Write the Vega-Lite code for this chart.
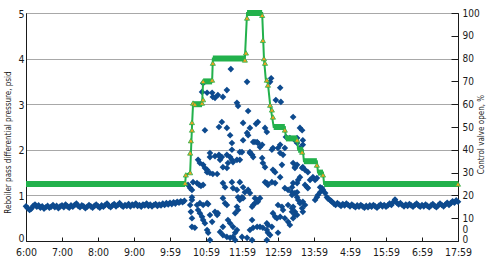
{
  "$schema": "https://vega.github.io/schema/vega-lite/v6.json",
  "width": 432,
  "height": 228,
  "autosize": {"type": "none"},
  "padding": {"left": 26, "top": 13, "right": 32, "bottom": 25},
  "background": "white",
  "config": {
    "view": {"stroke": "#1a1a1a", "strokeWidth": 1},
    "font": "'DejaVu Sans Condensed', 'Liberation Sans Narrow', 'Roboto Condensed', Roboto, sans-serif",
    "axis": {"labelFont": "'DejaVu Sans Condensed', 'Liberation Sans Narrow', 'Roboto Condensed', Roboto, sans-serif", "titleFont": "'DejaVu Sans Condensed', 'Liberation Sans Narrow', 'Roboto Condensed', Roboto, sans-serif", "labelColor": "#1a1a1a", "titleColor": "#1a1a1a", "domainColor": "#1a1a1a", "tickColor": "#1a1a1a", "titleFontWeight": "normal"}
  },
  "datasets": {
    "pressure": [
      {"t":6.00,"p":0.76},{"t":6.05,"p":0.72},{"t":6.10,"p":0.68},{"t":6.15,"p":0.71},{"t":6.20,"p":0.77},{"t":6.25,"p":0.80},{"t":6.30,"p":0.75},{"t":6.35,"p":0.78},{"t":6.40,"p":0.73},{"t":6.45,"p":0.76},
      {"t":6.50,"p":0.71},{"t":6.55,"p":0.74},{"t":6.60,"p":0.77},{"t":6.65,"p":0.73},{"t":6.70,"p":0.75},{"t":6.75,"p":0.79},{"t":6.80,"p":0.74},{"t":6.85,"p":0.77},{"t":6.90,"p":0.72},{"t":6.95,"p":0.76},
      {"t":7.00,"p":0.78},{"t":7.05,"p":0.74},{"t":7.10,"p":0.80},{"t":7.15,"p":0.76},{"t":7.20,"p":0.73},{"t":7.25,"p":0.78},{"t":7.30,"p":0.75},{"t":7.35,"p":0.79},{"t":7.40,"p":0.82},{"t":7.45,"p":0.77},
      {"t":7.50,"p":0.74},{"t":7.55,"p":0.78},{"t":7.60,"p":0.76},{"t":7.65,"p":0.72},{"t":7.70,"p":0.75},{"t":7.75,"p":0.79},{"t":7.80,"p":0.76},{"t":7.85,"p":0.73},{"t":7.90,"p":0.77},{"t":7.95,"p":0.80},
      {"t":8.00,"p":0.76},{"t":8.05,"p":0.73},{"t":8.10,"p":0.78},{"t":8.15,"p":0.75},{"t":8.20,"p":0.79},{"t":8.25,"p":0.82},{"t":8.30,"p":0.77},{"t":8.35,"p":0.74},{"t":8.40,"p":0.78},{"t":8.45,"p":0.81},
      {"t":8.50,"p":0.76},{"t":8.55,"p":0.79},{"t":8.60,"p":0.83},{"t":8.65,"p":0.78},{"t":8.70,"p":0.75},{"t":8.75,"p":0.79},{"t":8.80,"p":0.77},{"t":8.85,"p":0.81},{"t":8.90,"p":0.76},{"t":8.95,"p":0.80},
      {"t":9.00,"p":0.78},{"t":9.05,"p":0.82},{"t":9.10,"p":0.77},{"t":9.15,"p":0.79},{"t":9.20,"p":0.75},{"t":9.25,"p":0.80},{"t":9.30,"p":0.78},{"t":9.35,"p":0.82},{"t":9.40,"p":0.77},{"t":9.45,"p":0.80},
      {"t":9.50,"p":0.76},{"t":9.55,"p":0.79},{"t":9.60,"p":0.81},{"t":9.65,"p":0.77},{"t":9.70,"p":0.80},{"t":9.75,"p":0.78},{"t":9.80,"p":0.82},{"t":9.85,"p":0.79},{"t":9.90,"p":0.83},{"t":9.95,"p":0.80},
      {"t":10.00,"p":0.84},{"t":10.05,"p":0.81},{"t":10.10,"p":0.85},{"t":10.15,"p":0.82},{"t":10.20,"p":0.86},{"t":10.25,"p":0.84},{"t":10.30,"p":0.87},{"t":10.35,"p":0.85},{"t":10.40,"p":0.88},
      {"t":11.69,"p":3.77},{"t":12.14,"p":3.49},{"t":12.81,"p":3.57},{"t":12.78,"p":3.49},{"t":13.06,"p":3.36},{"t":10.92,"p":3.46},{"t":10.89,"p":3.27},{"t":11.03,"p":3.25},{"t":11.17,"p":3.25},{"t":11.19,"p":3.16},
      {"t":11.25,"p":3.14},{"t":11.33,"p":3.20},{"t":11.47,"p":3.16},{"t":11.58,"p":3.31},{"t":11.86,"p":3.03},{"t":11.89,"p":2.96},{"t":12.17,"p":2.85},{"t":12.94,"p":3.09},{"t":13.08,"p":3.05},{"t":11.44,"p":2.61},
      {"t":11.58,"p":2.48},{"t":12.03,"p":2.59},{"t":12.44,"p":2.61},{"t":12.39,"p":2.57},{"t":13.42,"p":2.72},{"t":12.22,"p":2.48},{"t":12.14,"p":2.37},{"t":12.64,"p":2.48},{"t":12.69,"p":2.39},{"t":10.97,"p":2.43},
      {"t":11.67,"p":2.32},{"t":11.72,"p":2.15},{"t":12.36,"p":2.17},{"t":12.44,"p":2.15},{"t":12.50,"p":2.06},{"t":12.22,"p":1.93},{"t":13.06,"p":2.11},{"t":13.22,"p":2.28},{"t":13.33,"p":2.26},{"t":13.61,"p":2.48},
      {"t":13.67,"p":2.43},{"t":13.69,"p":2.21},{"t":13.53,"p":2.26},{"t":13.47,"p":2.21},{"t":11.11,"p":1.93},{"t":11.11,"p":1.84},{"t":11.39,"p":1.84},{"t":11.39,"p":1.78},{"t":11.72,"p":2.00},{"t":11.36,"p":2.50},
      {"t":11.25,"p":1.86},{"t":11.36,"p":1.89},{"t":11.44,"p":1.84},{"t":11.58,"p":1.89},{"t":11.67,"p":1.84},{"t":10.78,"p":1.78},{"t":10.83,"p":1.71},{"t":10.92,"p":1.67},{"t":10.97,"p":1.60},{"t":11.03,"p":1.56},
      {"t":11.03,"p":1.51},{"t":11.11,"p":1.49},{"t":11.19,"p":1.47},{"t":11.31,"p":1.47},{"t":11.47,"p":1.62},{"t":11.58,"p":1.60},{"t":11.61,"p":1.71},{"t":11.72,"p":1.78},{"t":10.64,"p":1.29},{"t":10.75,"p":1.27},
      {"t":10.81,"p":1.23},{"t":10.86,"p":1.21},{"t":10.92,"p":1.23},{"t":10.50,"p":1.23},{"t":10.56,"p":1.16},{"t":10.61,"p":1.12},{"t":11.47,"p":1.27},{"t":11.53,"p":1.18},{"t":11.72,"p":1.29},{"t":10.61,"p":0.96},
      {"t":10.61,"p":0.90},{"t":10.75,"p":0.79},{"t":10.83,"p":0.83},{"t":10.92,"p":0.79},{"t":11.03,"p":0.83},{"t":11.06,"p":0.81},{"t":10.78,"p":0.68},{"t":10.83,"p":0.61},{"t":10.89,"p":0.53},{"t":10.92,"p":0.46},
      {"t":10.97,"p":0.39},{"t":11.47,"p":0.94},{"t":11.53,"p":0.83},{"t":11.58,"p":0.79},{"t":11.25,"p":0.64},{"t":11.31,"p":0.57},{"t":11.33,"p":0.61},{"t":11.11,"p":0.57},{"t":11.17,"p":0.42},{"t":11.61,"p":0.46},
      {"t":11.67,"p":0.39},{"t":11.75,"p":0.31},{"t":11.47,"p":0.31},{"t":11.03,"p":0.24},{"t":11.06,"p":0.18},{"t":11.39,"p":0.20},{"t":11.47,"p":0.13},{"t":11.58,"p":0.09},{"t":11.67,"p":0.07},{"t":11.75,"p":0.09},
      {"t":11.11,"p":0.02},{"t":10.61,"p":0.50},{"t":10.61,"p":0.31},{"t":10.69,"p":0.29},{"t":10.56,"p":0.79},{"t":10.58,"p":0.64},
      {"t":12.17,"p":2.32},{"t":12.31,"p":2.17},{"t":12.42,"p":2.17},{"t":12.56,"p":2.11},{"t":12.03,"p":2.21},{"t":12.22,"p":1.95},{"t":12.28,"p":1.89},{"t":12.31,"p":1.84},{"t":11.94,"p":1.95},{"t":12.00,"p":1.95},
      {"t":12.83,"p":2.00},{"t":12.86,"p":2.04},{"t":13.00,"p":2.04},{"t":13.06,"p":1.93},{"t":13.14,"p":1.89},{"t":13.19,"p":2.04},{"t":11.75,"p":1.73},{"t":11.86,"p":1.78},{"t":11.94,"p":1.78},{"t":12.56,"p":1.82},
      {"t":12.58,"p":1.71},{"t":12.64,"p":1.62},{"t":12.86,"p":1.56},{"t":12.92,"p":1.51},{"t":13.11,"p":1.67},{"t":13.47,"p":1.62},{"t":11.94,"p":1.29},{"t":12.64,"p":1.29},{"t":12.69,"p":1.27},{"t":12.72,"p":1.23},
      {"t":12.83,"p":1.29},{"t":12.92,"p":1.27},{"t":13.06,"p":1.40},{"t":13.19,"p":1.16},{"t":13.28,"p":1.12},{"t":13.39,"p":1.07},{"t":13.39,"p":1.01},{"t":13.47,"p":1.05},{"t":13.53,"p":1.07},{"t":11.75,"p":1.16},
      {"t":11.86,"p":1.12},{"t":12.03,"p":1.18},{"t":12.08,"p":1.07},{"t":12.17,"p":1.12},{"t":12.22,"p":1.05},{"t":11.89,"p":0.96},{"t":11.94,"p":0.90},{"t":12.00,"p":0.96},{"t":12.03,"p":0.94},{"t":12.36,"p":0.94},
      {"t":12.42,"p":0.90},{"t":12.50,"p":0.94},{"t":12.44,"p":0.86},{"t":12.36,"p":0.83},{"t":12.31,"p":0.79},{"t":12.28,"p":0.75},{"t":13.00,"p":0.79},{"t":13.11,"p":0.75},{"t":13.14,"p":0.68},{"t":13.28,"p":0.79},
      {"t":13.39,"p":0.72},{"t":13.47,"p":0.64},{"t":13.53,"p":0.57},{"t":11.86,"p":0.75},{"t":11.89,"p":0.68},{"t":11.81,"p":0.61},{"t":12.86,"p":0.61},{"t":12.92,"p":0.53},{"t":12.97,"p":0.50},{"t":13.06,"p":0.53},
      {"t":13.19,"p":0.50},{"t":13.28,"p":0.42},{"t":13.33,"p":0.35},{"t":12.28,"p":0.46},{"t":12.69,"p":0.39},{"t":12.72,"p":0.35},{"t":12.83,"p":0.31},{"t":11.86,"p":0.24},{"t":11.81,"p":0.18},{"t":11.81,"p":0.02},
      {"t":12.22,"p":0.24},{"t":12.31,"p":0.29},{"t":12.42,"p":0.31},{"t":12.50,"p":0.31},{"t":12.58,"p":0.29},{"t":12.69,"p":0.24},{"t":12.72,"p":0.18},{"t":12.78,"p":0.13},{"t":12.00,"p":0.09},{"t":12.14,"p":0.07},
      {"t":12.28,"p":0.02},{"t":12.69,"p":0.02},{"t":13.00,"p":0.18},
      {"t":13.53,"p":2.15},{"t":13.69,"p":2.11},{"t":13.61,"p":2.04},{"t":13.42,"p":1.71},{"t":13.53,"p":1.67},{"t":13.47,"p":1.60},{"t":13.67,"p":1.60},{"t":13.69,"p":1.62},{"t":13.75,"p":1.56},{"t":13.83,"p":1.51},
      {"t":13.89,"p":1.34},{"t":13.97,"p":1.40},{"t":14.03,"p":1.34},{"t":14.08,"p":1.38},{"t":13.61,"p":1.40},{"t":13.56,"p":1.34},{"t":13.53,"p":1.27},{"t":13.42,"p":1.27},{"t":13.39,"p":1.18},{"t":13.75,"p":1.23},
      {"t":13.81,"p":1.18},{"t":13.83,"p":1.16},{"t":14.17,"p":1.18},{"t":14.22,"p":1.16},{"t":14.25,"p":1.12},{"t":14.17,"p":1.07},{"t":14.11,"p":1.01},{"t":14.08,"p":0.96},{"t":14.03,"p":0.90},{"t":14.31,"p":1.05},
      {"t":14.36,"p":0.96},{"t":14.44,"p":0.90},{"t":13.53,"p":0.96},{"t":13.56,"p":0.90},{"t":13.61,"p":0.83},{"t":13.69,"p":0.86},{"t":13.75,"p":0.79},{"t":13.67,"p":0.72},{"t":13.69,"p":0.64},{"t":13.42,"p":0.75},
      {"t":13.39,"p":0.64},{"t":13.47,"p":0.57},{"t":13.42,"p":0.50},{"t":14.39,"p":0.93},{"t":14.47,"p":0.88},
      {"t":14.50,"p":0.86},{"t":14.55,"p":0.82},{"t":14.60,"p":0.79},{"t":14.65,"p":0.83},{"t":14.70,"p":0.80},{"t":14.75,"p":0.77},{"t":14.80,"p":0.81},{"t":14.85,"p":0.78},{"t":14.90,"p":0.82},{"t":14.95,"p":0.79},
      {"t":15.00,"p":0.76},{"t":15.05,"p":0.80},{"t":15.10,"p":0.77},{"t":15.15,"p":0.74},{"t":15.20,"p":0.78},{"t":15.25,"p":0.75},{"t":15.30,"p":0.79},{"t":15.35,"p":0.76},{"t":15.40,"p":0.73},{"t":15.45,"p":0.77},
      {"t":15.50,"p":0.74},{"t":15.55,"p":0.78},{"t":15.60,"p":0.75},{"t":15.65,"p":0.79},{"t":15.70,"p":0.76},{"t":15.75,"p":0.73},{"t":15.80,"p":0.77},{"t":15.85,"p":0.80},{"t":15.90,"p":0.76},{"t":15.95,"p":0.79},
      {"t":16.00,"p":0.75},{"t":16.05,"p":0.78},{"t":16.10,"p":0.82},{"t":16.15,"p":0.79},{"t":16.20,"p":0.85},{"t":16.25,"p":0.91},{"t":16.30,"p":0.84},{"t":16.35,"p":0.80},{"t":16.40,"p":0.83},{"t":16.45,"p":0.79},
      {"t":16.50,"p":0.76},{"t":16.55,"p":0.80},{"t":16.60,"p":0.77},{"t":16.65,"p":0.81},{"t":16.70,"p":0.78},{"t":16.75,"p":0.75},{"t":16.80,"p":0.79},{"t":16.85,"p":0.82},{"t":16.90,"p":0.78},{"t":16.95,"p":0.75},
      {"t":17.00,"p":0.79},{"t":17.05,"p":0.76},{"t":17.10,"p":0.80},{"t":17.15,"p":0.77},{"t":17.20,"p":0.74},{"t":17.25,"p":0.78},{"t":17.30,"p":0.81},{"t":17.35,"p":0.77},{"t":17.40,"p":0.74},{"t":17.45,"p":0.78},
      {"t":17.50,"p":0.82},{"t":17.55,"p":0.79},{"t":17.60,"p":0.76},{"t":17.65,"p":0.80},{"t":17.70,"p":0.84},{"t":17.75,"p":0.79},{"t":17.80,"p":0.83},{"t":17.85,"p":0.87},{"t":17.90,"p":0.84},{"t":17.95,"p":0.89},{"t":18.00,"p":0.86}
    ],
    "valve": [
      {"t":6.00,"v":25},{"t":10.42,"v":25},{"t":10.44,"v":29},{"t":10.56,"v":30},{"t":10.61,"v":50},{"t":10.64,"v":60},{"t":10.89,"v":60},{"t":10.92,"v":70},{"t":11.17,"v":70},{"t":11.19,"v":80},
      {"t":12.08,"v":80},{"t":12.14,"v":100},{"t":12.56,"v":100},{"t":12.61,"v":80},{"t":12.66,"v":71},{"t":12.72,"v":69},{"t":12.78,"v":60},{"t":12.86,"v":52},{"t":12.88,"v":50},{"t":13.19,"v":50},
      {"t":13.22,"v":45},{"t":13.53,"v":45},{"t":13.56,"v":40},{"t":13.69,"v":40},{"t":13.72,"v":35},{"t":14.08,"v":35},{"t":14.11,"v":30},{"t":14.25,"v":30},{"t":14.28,"v":25},{"t":18.00,"v":25}
    ],
    "valveFlat": [
      {"t":6.00,"v":25,"seg":"a"},{"t":10.42,"v":25,"seg":"a"},
      {"t":10.64,"v":60,"seg":"b"},{"t":10.89,"v":60,"seg":"b"},
      {"t":10.92,"v":70,"seg":"c"},{"t":11.17,"v":70,"seg":"c"},
      {"t":11.19,"v":80,"seg":"d"},{"t":12.08,"v":80,"seg":"d"},
      {"t":12.14,"v":100,"seg":"e"},{"t":12.56,"v":100,"seg":"e"},
      {"t":12.88,"v":50,"seg":"f"},{"t":13.19,"v":50,"seg":"f"},
      {"t":13.22,"v":45,"seg":"g"},{"t":13.53,"v":45,"seg":"g"},
      {"t":13.56,"v":40,"seg":"h"},{"t":13.69,"v":40,"seg":"h"},
      {"t":13.72,"v":35,"seg":"i"},{"t":14.08,"v":35,"seg":"i"},
      {"t":14.11,"v":30,"seg":"j"},{"t":14.25,"v":30,"seg":"j"},
      {"t":14.28,"v":25,"seg":"k"},{"t":18.00,"v":25,"seg":"k"}
    ],
    "valveMarks": [
      {"t":10.42,"v":25.4},{"t":10.44,"v":29},{"t":10.56,"v":30},{"t":10.56,"v":38.6},{"t":10.58,"v":44},{"t":10.61,"v":48.7},{"t":10.61,"v":52},{"t":10.64,"v":60.5},{"t":10.69,"v":60},{"t":10.89,"v":60.5},
      {"t":10.92,"v":62},{"t":10.92,"v":70},{"t":11.17,"v":70.6},{"t":11.19,"v":78},{"t":12.08,"v":79.4},{"t":12.11,"v":82.5},{"t":12.14,"v":97.8},{"t":12.56,"v":99},{"t":12.58,"v":88},{"t":12.61,"v":80},
      {"t":12.64,"v":78},{"t":12.69,"v":70.6},{"t":12.72,"v":68.4},{"t":12.78,"v":59.6},{"t":12.83,"v":57.5},{"t":12.86,"v":54.4},{"t":13.19,"v":48.7},{"t":13.53,"v":44.3},{"t":13.67,"v":39},{"t":14.08,"v":33.3},
      {"t":14.25,"v":29},{"t":18.00,"v":25}
    ]
  },
  "encoding": {
    "x": {
      "field": "t", "type": "quantitative",
      "scale": {"domain": [6, 18], "nice": false, "zero": false},
      "axis": {
        "title": null, "values": [6,7,8,9,10,11,12,13,14,15,16,17,18],
        "labelExpr": "['6:00','7:00','8:00','9:00','9:59','10:59','11:59','12:59','13:59','4:59','15:59','6:59','17:59'][datum.value - 6]",
        "grid": false, "tickSize": -4, "labelPadding": 10, "labelFontSize": 10.5, "labelFlush": false, "labelOverlap": false, "domainColor": "#1a1a1a"
      }
    }
  },
  "layer": [
    {
      "data": {"name": "pressure"},
      "mark": {"type": "point", "shape": "diamond", "filled": true, "size": 44, "color": "#0d4a8e", "opacity": 1, "clip": false},
      "encoding": {
        "y": {
          "field": "p", "type": "quantitative",
          "scale": {"domain": [0, 5], "nice": false, "zero": true},
          "axis": {
            "title": "Reboiler pass differential pressure, psid", "titleFontSize": 8,
            "titleAngle": 270, "titleX": -18, "titleY": 129, "titleAlign": "center", "titleBaseline": "middle",
            "values": [0,1,2,3,4,5], "ticks": false, "labelPadding": 2, "labelFontSize": 10.5,
            "labelOffset": {"condition": {"test": "datum.value == 0", "value": -3}, "value": 1},
            "grid": true, "gridColor": "#a8a8a8", "gridWidth": 1, "labelFlush": false
          }
        }
      }
    },
    {
      "encoding": {
        "y": {
          "field": "v", "type": "quantitative",
          "scale": {"domain": [0, 100], "nice": false, "zero": true},
          "axis": {
            "orient": "right", "title": "Control valve open, %", "titleFontSize": 8,
            "titleAngle": 270, "titleX": 23, "titleY": 121, "titleAlign": "center", "titleBaseline": "middle",
            "values": [0,5,10,20,30,40,50,60,70,80,90,100],
            "labelExpr": "datum.value < 8 ? '0' : datum.label",
            "labelOffset": {"condition": {"test": "datum.value == 0", "value": -2}, "value": 0},
            "tickSize": -7, "labelPadding": 11, "labelFontSize": 10, "grid": false, "labelFlush": false, "labelOverlap": false,
            "tickColor": {"condition": {"test": "datum.value < 8", "value": "transparent"}, "value": "#1a1a1a"}
          }
        }
      },
      "layer": [
        {
          "data": {"name": "valve"},
          "mark": {"type": "line", "color": "#22b14c", "strokeWidth": 2},
          "encoding": {"order": {"field": "t", "type": "quantitative"}}
        },
        {
          "data": {"name": "valveFlat"},
          "mark": {"type": "line", "color": "#22b14c", "strokeWidth": 6, "strokeCap": "butt"},
          "encoding": {"detail": {"field": "seg", "type": "nominal"}}
        },
        {
          "data": {"name": "valveMarks"},
          "mark": {"type": "point", "shape": "triangle-up", "filled": true, "size": 26, "fill": "#f5a21e", "stroke": "#22b14c", "strokeWidth": 0.8, "opacity": 1, "clip": false}
        }
      ]
    }
  ],
  "resolve": {"scale": {"y": "independent"}}
}
